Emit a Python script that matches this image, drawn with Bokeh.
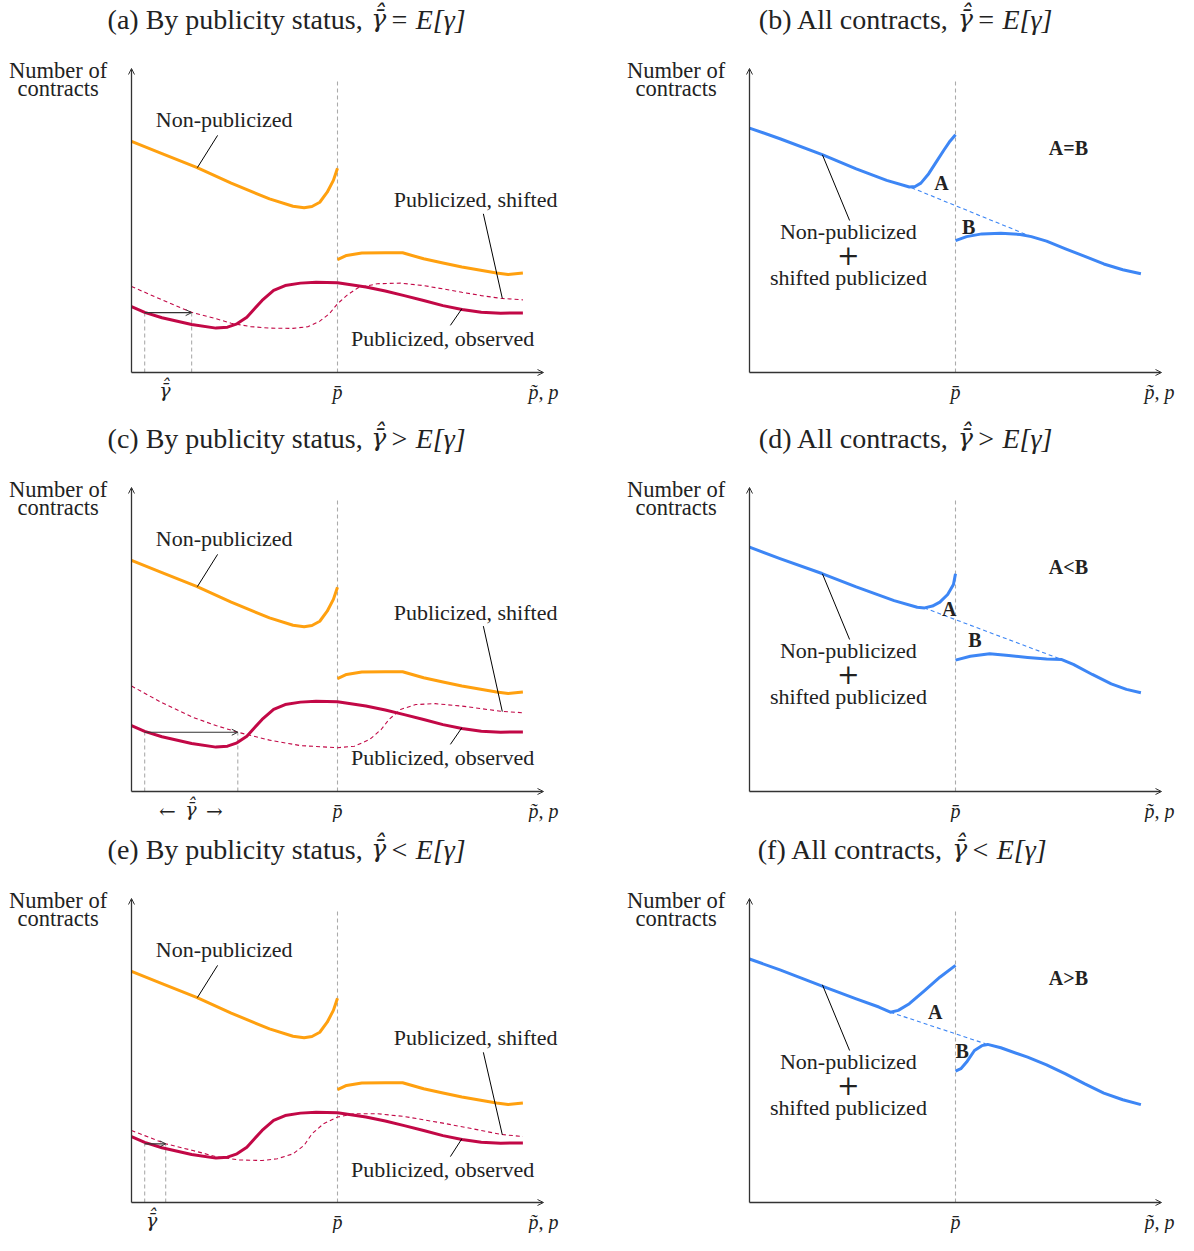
from bokeh.plotting import figure
from bokeh.layouts import gridplot
from bokeh.models import Range1d, Arrow, OpenHead
from bokeh.core.properties import value
from bokeh.embed import file_html
from bokeh.resources import INLINE

# ---------------- data (abstract units: price 0..10, count 0..10) ----------------
P_BAR = 5.0
X_TIP = 10.0
Y_TIP = 10.0
TICK_PBAR = "p\u0304"
TICK_P = "p\u0303, p"
GAMMA = "\u03b3\u0304\u0302"

# panels (a),(c),(e): by publicity status
NONPUB_X = [0.0, 0.74, 1.58, 2.42, 3.35, 3.92, 4.19, 4.38, 4.57, 4.75, 4.90, 5.0]
NONPUB_Y = [7.60, 7.20, 6.75, 6.23, 5.71, 5.47, 5.42, 5.46, 5.60, 5.93, 6.32, 6.72]
SHIFT_X = [5.0, 5.22, 5.59, 6.16, 6.58, 7.09, 7.56, 8.02, 8.86, 9.14, 9.50]
SHIFT_Y = [3.71, 3.85, 3.93, 3.94, 3.94, 3.74, 3.60, 3.47, 3.27, 3.22, 3.27]
OBS_X = [0.0, 0.32, 0.74, 1.46, 2.05, 2.33, 2.56, 2.80, 2.98, 3.17, 3.45, 3.73,
         4.10, 4.48, 5.0, 5.69, 6.16, 6.62, 7.09, 7.56, 8.02, 8.49, 8.96, 9.50]
OBS_Y = [2.17, 1.98, 1.80, 1.58, 1.46, 1.49, 1.60, 1.82, 2.09, 2.37, 2.70, 2.86,
         2.94, 2.97, 2.95, 2.81, 2.68, 2.53, 2.37, 2.20, 2.07, 1.98, 1.95, 1.96]
DASH_A_X = [0.0, 0.74, 1.46, 2.05, 2.42, 2.89, 3.35, 3.92, 4.29, 4.57, 4.80, 5.0,
            5.22, 5.50, 5.97, 6.53, 7.09, 7.56, 8.02, 8.49, 8.96, 9.50]
DASH_A_Y = [2.83, 2.39, 1.98, 1.77, 1.62, 1.51, 1.46, 1.45, 1.51, 1.69, 1.93, 2.26,
            2.53, 2.79, 2.92, 2.94, 2.86, 2.75, 2.64, 2.53, 2.44, 2.39]
DASH_C_X = [0.0, 0.74, 1.49, 2.05, 2.58, 3.35, 4.10, 5.0, 5.41, 5.78, 6.06, 6.25,
            6.53, 6.90, 7.37, 8.02, 8.96, 9.50]
DASH_C_Y = [3.47, 2.92, 2.44, 2.17, 1.95, 1.69, 1.51, 1.44, 1.49, 1.71, 2.04, 2.37,
            2.70, 2.86, 2.89, 2.81, 2.64, 2.59]
DASH_E_X = [0.0, 0.32, 0.83, 1.49, 2.05, 2.61, 3.17, 3.54, 3.92, 4.19, 4.38, 4.66,
            5.0, 5.41, 5.97, 6.62, 7.56, 8.49, 8.96, 9.50]
DASH_E_Y = [2.37, 2.20, 1.93, 1.71, 1.51, 1.40, 1.38, 1.44, 1.60, 1.88, 2.26, 2.59,
            2.81, 2.92, 2.92, 2.83, 2.61, 2.37, 2.24, 2.17]
GAMMA_A_X = [0.32, 1.46]
GAMMA_A_Y = 1.97
GAMMA_C_X = [0.32, 2.58]
GAMMA_C_Y = 1.95
GAMMA_E_X = [0.32, 0.83]
GAMMA_E_Y = 1.93

# panels (b),(d),(f): all contracts
BLUE_B_L_X = [0.0, 0.74, 1.78, 2.59, 3.33, 3.88, 4.02, 4.16, 4.35, 4.53, 4.72, 4.85, 5.0]
BLUE_B_L_Y = [8.04, 7.69, 7.16, 6.70, 6.32, 6.10, 6.12, 6.23, 6.54, 6.92, 7.32, 7.58, 7.82]
BLUE_B_R_X = [5.0, 5.27, 5.64, 6.10, 6.57, 6.84, 7.21, 7.67, 8.14, 8.60, 9.06, 9.50]
BLUE_B_R_Y = [4.34, 4.47, 4.56, 4.58, 4.54, 4.47, 4.32, 4.07, 3.82, 3.57, 3.38, 3.25]
BLUE_B_D_X = [3.93, 6.84]
BLUE_B_D_Y = [6.08, 4.47]

BLUE_D_L_X = [0.0, 0.74, 1.76, 2.59, 3.51, 4.07, 4.25, 4.44, 4.62, 4.81, 4.95, 5.0]
BLUE_D_L_Y = [8.04, 7.66, 7.17, 6.73, 6.28, 6.06, 6.04, 6.10, 6.23, 6.48, 6.81, 7.16]
BLUE_D_R_X = [5.0, 5.36, 5.83, 6.29, 6.75, 7.21, 7.58, 7.86, 8.32, 8.78, 9.15, 9.50]
BLUE_D_R_Y = [4.32, 4.45, 4.53, 4.47, 4.41, 4.36, 4.34, 4.18, 3.85, 3.54, 3.36, 3.25]
BLUE_D_D_X = [4.24, 7.58]
BLUE_D_D_Y = [6.04, 4.34]

BLUE_F_L_X = [0.0, 0.74, 1.78, 2.59, 3.14, 3.42, 3.61, 3.88, 4.25, 4.62, 5.0]
BLUE_F_L_Y = [8.01, 7.65, 7.11, 6.70, 6.43, 6.26, 6.32, 6.54, 6.97, 7.41, 7.80]
BLUE_F_R_X = [5.0, 5.13, 5.27, 5.46, 5.64, 5.78, 6.10, 6.75, 7.21, 7.67, 8.14, 8.60, 9.06, 9.50]
BLUE_F_R_Y = [4.32, 4.40, 4.62, 5.00, 5.16, 5.20, 5.09, 4.78, 4.53, 4.23, 3.90, 3.60, 3.38, 3.22]
BLUE_F_D_X = [3.42, 5.73]
BLUE_F_D_Y = [6.26, 5.22]

# ---------------- layout / style ----------------
W, H = 589, 411
PXU_X, PXU_Y = 41.2, 30.4
ROW_ORIGIN_PX = [372, 380, 380]
LEFT_X0_PX, RIGHT_X0_PX = 131, 160
FONT = value("Liberation Serif")
MATH_FONT = value("DejaVu Serif")
ORANGE = "#FFA00F"
CRIMSON = "#C20846"
BLUE = "#3D86F5"
GRAY = "#ababab"
INK = "#222222"


def base_fig(x0_px, origin_px, p_label_dx=0.0):
    p = figure(width=W, height=H,
               x_range=Range1d(-x0_px / PXU_X, (W - x0_px) / PXU_X),
               y_range=Range1d(-(H - origin_px) / PXU_Y, origin_px / PXU_Y),
               output_backend="svg", toolbar_location=None,
               x_axis_location=None, y_axis_location=None,
               min_border=0, outline_line_color=None)
    p.xgrid.visible = False
    p.ygrid.visible = False
    for xe, ye in [(X_TIP, 0.0), (0.0, Y_TIP)]:
        p.add_layout(Arrow(end=OpenHead(size=6, line_color="#333333", line_width=1),
                           x_start=0.0, y_start=0.0, x_end=xe, y_end=ye,
                           line_color="#333333", line_width=1.3))
    p.line([P_BAR, P_BAR], [0.0, 9.6], line_color=GRAY, line_width=1.1, line_dash="4 3")
    p.text(x=[P_BAR, X_TIP + p_label_dx], y=[-0.63, -0.63], text=[TICK_PBAR, TICK_P],
           text_font=FONT, text_font_size=value("20px"), text_font_style="italic",
           text_align="center", text_baseline="middle", text_color=INK)
    return p


def txt(p, x, y, s, size="22px", style="normal", align="center", font=FONT):
    p.text(x=[x], y=[y], text=[s], text_font=font, text_font_size=value(size),
           text_font_style=style, text_align=align, text_baseline="middle", text_color=INK)


def title(p, head, rel, x_split):
    txt(p, x_split, 11.62, head, size="28px", align="right")
    txt(p, x_split + 0.39, 11.66, GAMMA, size="25px", style="italic", font=MATH_FONT)
    txt(p, x_split + 0.66, 11.62, rel + " E[\u03b3]", size="28px", style="italic", align="left")


def ylabel(p):
    txt(p, -1.78, 9.93, "Number of", size="22.5px")
    txt(p, -1.78, 9.34, "contracts", size="22.5px")


def left_panel(origin_px, head, rel, dash_x, dash_y, g_x, g_y, g_label_x, arrows,
               shift_label_y, shift_leader_y0, shift_leader_y1, obs_label_y):
    p = base_fig(LEFT_X0_PX, origin_px)
    title(p, head, rel, 5.61)
    ylabel(p)
    for gx in g_x:
        p.line([gx, gx], [0.0, g_y], line_color=GRAY, line_width=1.1, line_dash="4 3")
    p.add_layout(Arrow(end=OpenHead(size=6, line_color="#333333", line_width=1),
                       x_start=g_x[0], y_start=g_y, x_end=g_x[1], y_end=g_y,
                       line_color="#333333", line_width=1.1))
    txt(p, g_label_x, -0.58, GAMMA, size="19px", style="italic", font=MATH_FONT)
    if arrows:
        txt(p, g_label_x - 0.57, -0.63, "\u2190", size="20px", font=MATH_FONT)
        txt(p, g_label_x + 0.57, -0.63, "\u2192", size="20px", font=MATH_FONT)
    p.line(dash_x, dash_y, line_color=CRIMSON, line_width=1.1, line_dash="4 3")
    p.line(NONPUB_X, NONPUB_Y, line_color=ORANGE, line_width=3, line_join="round")
    p.line(SHIFT_X, SHIFT_Y, line_color=ORANGE, line_width=3, line_join="round")
    p.line(OBS_X, OBS_Y, line_color=CRIMSON, line_width=3, line_join="round")
    p.line([2.09, 1.60], [7.80, 6.74], line_color="black", line_width=1)
    txt(p, 2.25, 8.32, "Non-publicized")
    p.line([8.54, 9.0], [shift_leader_y0, shift_leader_y1], line_color="black", line_width=1)
    txt(p, 8.35, shift_label_y, "Publicized, shifted")
    p.line([7.74, 8.02], [obs_label_y + 0.43, 2.10], line_color="black", line_width=1)
    txt(p, 7.55, obs_label_y, "Publicized, observed")
    return p


def right_panel(origin_px, head, rel, x_split, lx, ly, rx, ry, dx, dy, a_pos, b_pos, cmp_label):
    p = base_fig(RIGHT_X0_PX, origin_px, p_label_dx=-0.05)
    title(p, head, rel, x_split)
    ylabel(p)
    p.line(dx, dy, line_color=BLUE, line_width=1.1, line_dash="4 3")
    p.line(lx, ly, line_color=BLUE, line_width=3, line_join="round")
    p.line(rx, ry, line_color=BLUE, line_width=3, line_join="round")
    txt(p, a_pos[0], a_pos[1], "A", size="20px", style="bold")
    txt(p, b_pos[0], b_pos[1], "B", size="20px", style="bold")
    txt(p, 7.74, 7.38, cmp_label, size="20px", style="bold")
    p.line([1.77, 2.43], [7.16, 5.0], line_color="black", line_width=1)
    txt(p, 2.40, 4.65, "Non-publicized")
    txt(p, 2.40, 3.88, "+", size="27px", font=MATH_FONT)
    txt(p, 2.40, 3.12, "shifted publicized")
    return p


pa = left_panel(ROW_ORIGIN_PX[0], "(a) By publicity status,", "=", DASH_A_X, DASH_A_Y,
                GAMMA_A_X, GAMMA_A_Y, 0.81, False, 5.69, 5.22, 2.44, 1.12)
pc = left_panel(ROW_ORIGIN_PX[1], "(c) By publicity status,", ">", DASH_C_X, DASH_C_Y,
                GAMMA_C_X, GAMMA_C_Y, 1.44, True, 5.88, 5.44, 2.63, 1.12)
pe = left_panel(ROW_ORIGIN_PX[2], "(e) By publicity status,", "<", DASH_E_X, DASH_E_Y,
                GAMMA_E_X, GAMMA_E_Y, 0.49, False, 5.42, 4.94, 2.23, 1.08)

pb = right_panel(ROW_ORIGIN_PX[0], "(b) All contracts,", "=", 4.85,
                 BLUE_B_L_X, BLUE_B_L_Y, BLUE_B_R_X, BLUE_B_R_Y, BLUE_B_D_X, BLUE_B_D_Y,
                 (4.66, 6.25), (5.32, 4.78), "A=B")
pd = right_panel(ROW_ORIGIN_PX[1], "(d) All contracts,", ">", 4.85,
                 BLUE_D_L_X, BLUE_D_L_Y, BLUE_D_R_X, BLUE_D_R_Y, BLUE_D_D_X, BLUE_D_D_Y,
                 (4.85, 6.01), (5.47, 5.0), "A<B")
pf = right_panel(ROW_ORIGIN_PX[2], "(f) All contracts,", "<", 4.71,
                 BLUE_F_L_X, BLUE_F_L_Y, BLUE_F_R_X, BLUE_F_R_Y, BLUE_F_D_X, BLUE_F_D_Y,
                 (4.51, 6.26), (5.16, 4.98), "A>B")

grid = gridplot([[pa, pb], [pc, pd], [pe, pf]], toolbar_location=None)

open("out.html", "w").write(file_html(grid, INLINE))
